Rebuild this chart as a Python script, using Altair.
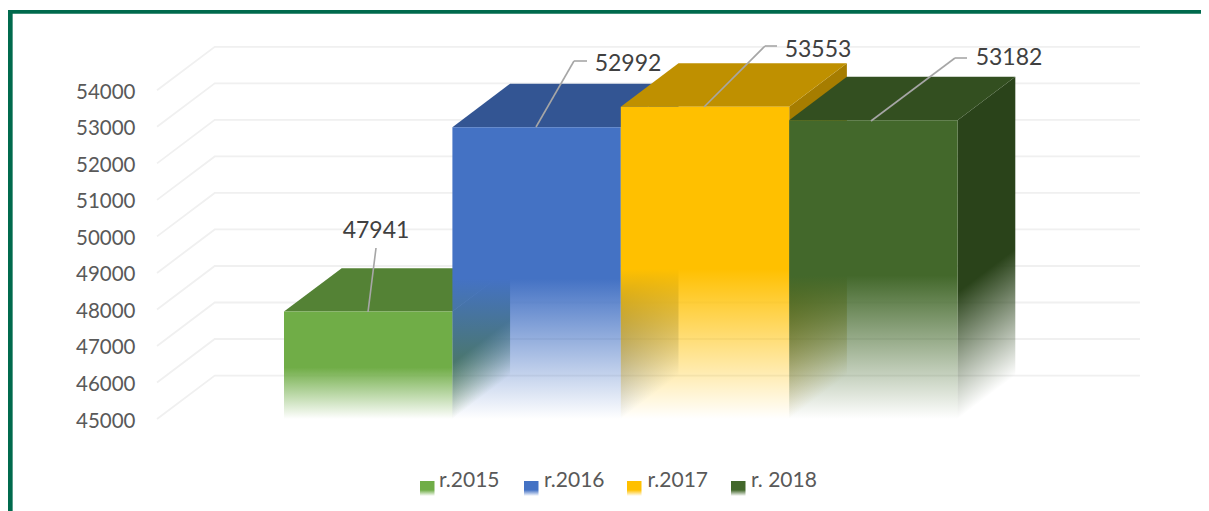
import altair as alt
import pandas as pd

categories = ["r.2015", "r.2016", "r.2017", "r. 2018"]
values = [47941, 52992, 53553, 53182]
front_colors = [(112, 173, 71), (68, 114, 196), (255, 192, 0), (67, 104, 43)]
top_colors = ["#548235", "#335593", "#BF9000", "#334F20"]
side_colors = [(79, 122, 50), (47, 85, 151), (166, 125, 0), (42, 67, 26)]
y_ticks = [45000, 46000, 47000, 48000, 49000, 50000, 51000, 52000, 53000, 54000]

BASE = 45000
W, H = 1193, 503
PX_PER_UNIT_Y = 36.52 / 1000
BAR_PX = 168.4
X0_PX = 276.0
Y_BASE_PX = 411.0
DX = 0.3426
DV = 1190
GRID_LEFT, GRID_RIGHT = -0.754, 5.083

x_domain = [-X0_PX / BAR_PX, (W - X0_PX) / BAR_PX]
y_domain = [BASE - (H - Y_BASE_PX) / PX_PER_UNIT_Y, BASE + Y_BASE_PX / PX_PER_UNIT_Y]
xs = alt.Scale(domain=x_domain, nice=False, zero=False)
ys = alt.Scale(domain=y_domain, nice=False, zero=False)
FONT = "Lato"
y_axis = alt.Axis(
    values=y_ticks, title=None, domain=False, ticks=False, grid=False,
    offset=-127, labelPadding=0, labelFontSize=20.5, labelFont=FONT,
    labelColor="#595959", format="d", labelOffset=2,
)


def X(field="x"):
    return alt.X(f"{field}:Q", scale=xs, axis=None)


def Y(field="y"):
    return alt.Y(f"{field}:Q", scale=ys, axis=y_axis)


def rgba(c, a):
    return f"rgba({c[0]},{c[1]},{c[2]},{a})"


def fade(c, x1=0.0, y1=0.0, x2=0.0, y2=1.0, start=0.52):
    return alt.Gradient(
        gradient="linear", x1=x1, y1=y1, x2=x2, y2=y2,
        stops=[
            alt.GradientStop(color=rgba(c, 1), offset=0),
            alt.GradientStop(color=rgba(c, 1), offset=start),
            alt.GradientStop(color=rgba(c, 0), offset=1),
        ],
    )


layers = []

# back wall and side wall gridlines
grid_rows = []
for t in y_ticks:
    grid_rows += [
        {"t": t, "k": 0, "x": GRID_LEFT, "y": t},
        {"t": t, "k": 1, "x": GRID_LEFT + DX, "y": t + DV},
        {"t": t, "k": 2, "x": GRID_RIGHT, "y": t + DV},
    ]
layers.append(
    alt.Chart(pd.DataFrame(grid_rows)).mark_line(color="#F0F0F0", strokeWidth=1.8).encode(
        x=X(), y=Y(), detail="t:N", order="k:Q",
    )
)

for i, v in enumerate(values):
    side = pd.DataFrame({
        "x": [i + 1, i + 1 + DX],
        "y": [v, v + DV],
        "y2": [BASE, BASE + DV],
    })
    s = DV / (v + DV - BASE)
    k = 1 / (1 + s * s)
    layers.append(
        alt.Chart(side).mark_area(
            orient="vertical",
            color=fade(side_colors[i], 0, 0, s * k, k, 0.63),
        ).encode(x=X(), y=Y(), y2="y2:Q")
    )
    top = pd.DataFrame({
        "y": [v, v + DV],
        "x": [i, i + DX],
        "x2": [i + 1, i + 1 + DX],
    })
    layers.append(
        alt.Chart(top).mark_area(orient="horizontal", color=top_colors[i]).encode(
            y=Y(), x=X(), x2="x2:Q"
        )
    )
    front = pd.DataFrame({"x": [i], "x2": [i + 1], "y": [v], "y2": [BASE]})
    layers.append(
        alt.Chart(front).mark_rect(color=fade(front_colors[i])).encode(
            x=X(), x2="x2:Q", y=Y(), y2="y2:Q"
        )
    )

# leader lines (page layout, in plot pixels)
leaders = [
    [(360, 304, 368, 240)],
    [(528, 119, 566, 53), (566, 53, 579, 53)],
    [(696, 99, 757, 38), (757, 38, 769, 38)],
    [(863, 113, 947, 50), (947, 50, 959, 50)],
]
for segs in leaders:
    for a, b, c, d in segs:
        layers.append(
            alt.Chart(pd.DataFrame({"a": [0]})).mark_rule(color="#A6A6A6", strokeWidth=1.6).encode(
                x=alt.value(a), y=alt.value(b), x2=alt.value(c), y2=alt.value(d)
            )
        )

# data labels
label_pos = [(368, 223), (620, 56), (810, 42), (1001, 50)]
for v, (lx, ly) in zip(values, label_pos):
    layers.append(
        alt.Chart(pd.DataFrame({"label": [str(v)]})).mark_text(
            font=FONT, fontSize=23, color="#404040", align="center", baseline="middle"
        ).encode(x=alt.value(lx), y=alt.value(ly), text="label:N")
    )

# frame
layers.append(
    alt.Chart(pd.DataFrame({"a": [0]})).mark_rule(color="#006A4D", strokeWidth=3.7).encode(
        x=alt.value(0), x2=alt.value(W), y=alt.value(3.8), y2=alt.value(3.8)
    )
)
layers.append(
    alt.Chart(pd.DataFrame({"a": [0]})).mark_rule(color="#006A4D", strokeWidth=4.7).encode(
        x=alt.value(2.3), x2=alt.value(2.3), y=alt.value(2), y2=alt.value(H)
    )
)

# legend with gradient swatches
swatch_x = [412, 516, 619, 723]
text_x = [431, 536, 639.5, 743]
for i, name in enumerate(categories):
    layers.append(
        alt.Chart(pd.DataFrame({"a": [0]})).mark_rect(color=fade(front_colors[i], start=0.6)).encode(
            x=alt.value(swatch_x[i]), x2=alt.value(swatch_x[i] + 14.5),
            y=alt.value(473), y2=alt.value(488),
        )
    )
    layers.append(
        alt.Chart(pd.DataFrame({"label": [name]})).mark_text(
            font=FONT, fontSize=21, color="#595959", align="left", baseline="middle"
        ).encode(x=alt.value(text_x[i]), y=alt.value(472.5), text="label:N")
    )

chart = (
    alt.layer(*layers)
    .properties(width=W, height=H, padding=0, autosize=alt.AutoSizeParams(type="none"), background="white")
    .configure_view(strokeWidth=0)
)

chart.save("out.html", embed_options={"renderer": "svg", "actions": False})
